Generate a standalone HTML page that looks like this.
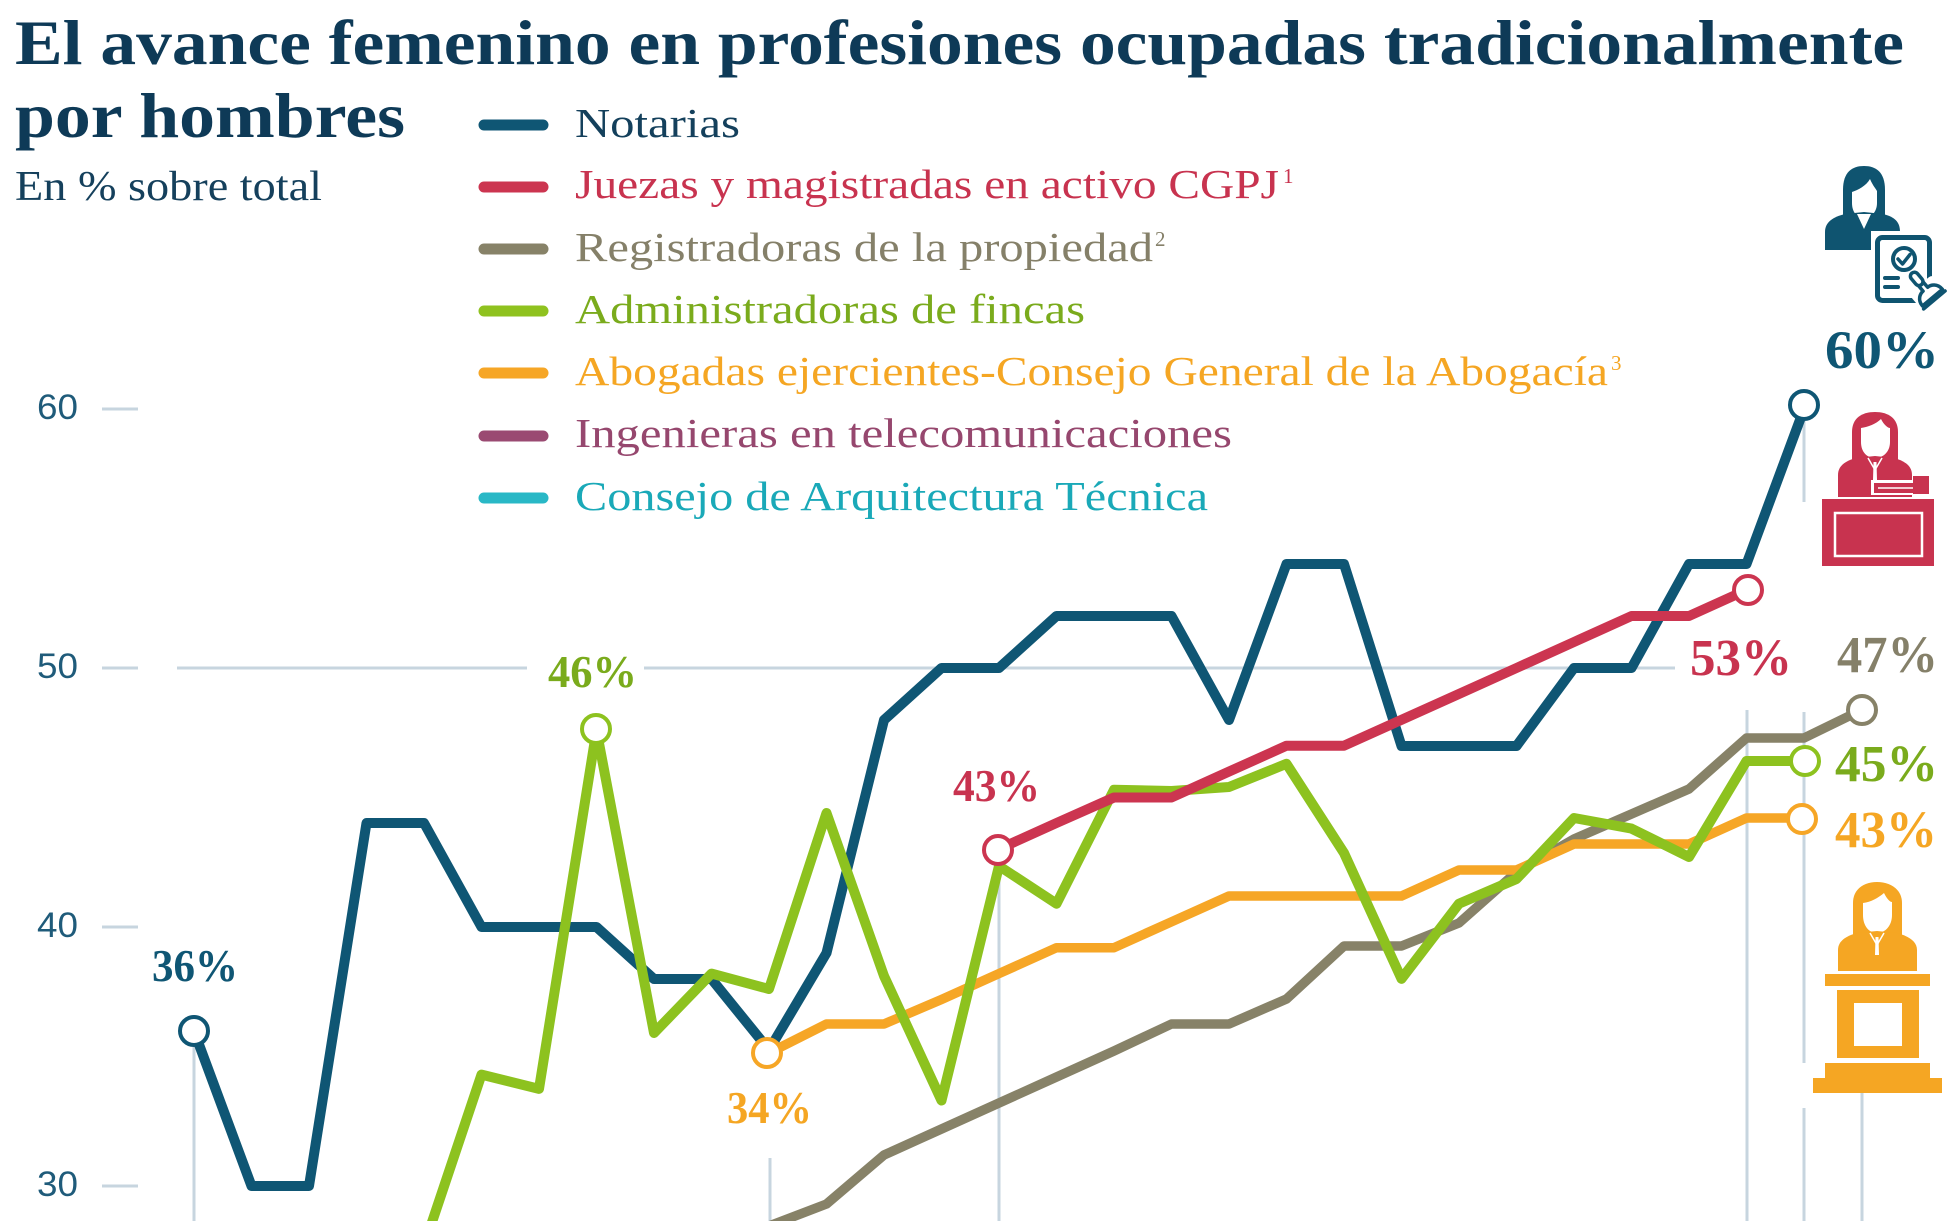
<!DOCTYPE html>
<html>
<head>
<meta charset="utf-8">
<style>
html,body{margin:0;padding:0;background:#ffffff;}
svg{display:block;}
</style>
</head>
<body>
<svg width="1960" height="1221" viewBox="0 0 1960 1221" xmlns="http://www.w3.org/2000/svg">
<rect x="0" y="0" width="1960" height="1221" fill="#ffffff"/>

<!-- Title -->
<g font-family="'Liberation Serif', serif" font-weight="bold" fill="#0e3a57">
  <text x="15" y="64" font-size="64" textLength="1889" lengthAdjust="spacingAndGlyphs">El avance femenino en profesiones ocupadas tradicionalmente</text>
  <text x="15" y="137" font-size="64" textLength="390" lengthAdjust="spacingAndGlyphs">por hombres</text>
</g>
<text x="15" y="200" font-family="'Liberation Serif', serif" font-size="42" fill="#15405c" textLength="307" lengthAdjust="spacingAndGlyphs">En % sobre total</text>

<!-- Legend -->
<g stroke-width="11" stroke-linecap="round">
  <line x1="484" y1="125" x2="543" y2="125" stroke="#0f5674"/>
  <line x1="484" y1="187" x2="543" y2="187" stroke="#cc3550"/>
  <line x1="484" y1="249" x2="543" y2="249" stroke="#878268"/>
  <line x1="484" y1="311" x2="543" y2="311" stroke="#8fc21f"/>
  <line x1="484" y1="373" x2="543" y2="373" stroke="#f6a626"/>
  <line x1="484" y1="436" x2="543" y2="436" stroke="#9a4a72"/>
  <line x1="484" y1="498" x2="543" y2="498" stroke="#29b8c6"/>
</g>
<g font-family="'Liberation Serif', serif" font-size="41">
  <text x="575" y="137" fill="#14405c" textLength="165" lengthAdjust="spacingAndGlyphs">Notarias</text>
  <text x="575" y="198" fill="#c8334f" textLength="704" lengthAdjust="spacingAndGlyphs">Juezas y magistradas en activo CGPJ</text>
  <text x="1283" y="183" fill="#c8334f" font-size="21">1</text>
  <text x="575" y="261" fill="#858069" textLength="578" lengthAdjust="spacingAndGlyphs">Registradoras de la propiedad</text>
  <text x="1155" y="246" fill="#858069" font-size="21">2</text>
  <text x="575" y="323" fill="#7aab1c" textLength="510" lengthAdjust="spacingAndGlyphs">Administradoras de fincas</text>
  <text x="575" y="385" fill="#f5a623" textLength="1033" lengthAdjust="spacingAndGlyphs">Abogadas ejercientes-Consejo General de la Abogacía</text>
  <text x="1611" y="370" fill="#f5a623" font-size="21">3</text>
  <text x="575" y="447" fill="#96476e" textLength="657" lengthAdjust="spacingAndGlyphs">Ingenieras en telecomunicaciones</text>
  <text x="575" y="510" fill="#1aa9b8" textLength="633" lengthAdjust="spacingAndGlyphs">Consejo de Arquitectura Técnica</text>
</g>

<!-- Axis ticks and labels -->
<g stroke="#c7d5df" stroke-width="3">
  <line x1="102" y1="409" x2="138" y2="409"/>
  <line x1="102" y1="668" x2="138" y2="668"/>
  <line x1="102" y1="927" x2="138" y2="927"/>
  <line x1="102" y1="1186" x2="138" y2="1186"/>
  <line x1="177" y1="668" x2="527" y2="668"/>
  <line x1="644" y1="668" x2="1675" y2="668"/>
  <!-- drop lines -->
  <line x1="194" y1="1047" x2="194" y2="1221"/>
  <line x1="770" y1="1158" x2="770" y2="1221"/>
  <line x1="999" y1="866" x2="999" y2="1221"/>
  <line x1="1747" y1="710" x2="1747" y2="1221"/>
  <line x1="1804" y1="420" x2="1804" y2="502"/>
  <line x1="1804" y1="712" x2="1804" y2="1063"/>
  <line x1="1804" y1="1108" x2="1804" y2="1221"/>
  <line x1="1862" y1="1093" x2="1862" y2="1221"/>
</g>
<g font-family="'Liberation Sans', sans-serif" font-size="35" fill="#1f5b7a">
  <text x="37" y="419" textLength="41" lengthAdjust="spacingAndGlyphs">60</text>
  <text x="37" y="678" textLength="41" lengthAdjust="spacingAndGlyphs">50</text>
  <text x="37" y="937" textLength="41" lengthAdjust="spacingAndGlyphs">40</text>
  <text x="37" y="1196" textLength="41" lengthAdjust="spacingAndGlyphs">30</text>
</g>

<!-- Series -->
<g fill="none" stroke-linejoin="round" stroke-width="10">
  <!-- Registradoras -->
  <polyline stroke="#878268" stroke-width="9.5" points="769,1226 826.5,1204 884,1155 941.5,1129 999,1103 1056.5,1077 1114,1051 1171.5,1024 1229,1024 1286.5,999 1344,946 1401.5,946 1459,923 1516.5,872 1574,839 1631.5,814 1689,789 1746.5,738 1804,738 1861.5,710"/>
  <!-- Abogadas -->
  <polyline stroke="#f6a626" stroke-width="9.5" points="769,1053 826.5,1024 884,1024 941.5,999.5 999,973.6 1056.5,947.7 1114,947.7 1171.5,921.8 1229,896 1286.5,896 1344,896 1401.5,896 1459,870 1516.5,870 1574,844 1631.5,844 1689,844 1746.5,818 1804,818"/>
  <!-- Notarias -->
  <polyline stroke="#0f5674" points="194,1031 251.5,1186 309,1186 366.5,823 424,823 481.5,927 539,927 596.5,927 654,979 711.5,979 769,1050 826.5,953 884,720 941.5,668 999,668 1056.5,616 1114,616 1171.5,616 1229,720 1286.5,564 1344,564 1401.5,746 1459,746 1516.5,746 1574,668 1631.5,668 1689,564 1746.5,564 1804,409"/>
  <!-- Administradoras -->
  <polyline stroke="#8dc21f" points="424,1246 481.5,1074.6 539,1088.9 596.5,730 654,1033 711.5,973.6 769,989 826.5,813 884,976 941.5,1100.5 999,866 1056.5,903.7 1114,789.7 1171.5,791 1229,787 1286.5,763.8 1344,853 1401.5,978.8 1459,903.7 1516.5,879 1574,818 1631.5,828.6 1689,857 1746.5,761 1804,761"/>
  <!-- Juezas -->
  <polyline stroke="#cc3550" points="999,849 1056.5,823 1114,797.5 1171.5,797.5 1229,771.6 1286.5,745.7 1344,745.7 1401.5,719.8 1459,693.9 1516.5,668 1574,642 1631.5,616 1689,616 1746.5,590"/>
</g>

<!-- Circles -->
<g fill="#ffffff" stroke-width="4">
  <circle cx="194" cy="1031" r="14" stroke="#0f5674"/>
  <circle cx="1804" cy="405" r="14" stroke="#0f5674"/>
  <circle cx="596" cy="729" r="14" stroke="#8dc21f"/>
  <circle cx="1805" cy="761" r="14" stroke="#8dc21f"/>
  <circle cx="767" cy="1053" r="14" stroke="#f6a626"/>
  <circle cx="1802" cy="819" r="14" stroke="#f6a626"/>
  <circle cx="998" cy="850" r="14" stroke="#cc3550"/>
  <circle cx="1748" cy="590" r="14" stroke="#cc3550"/>
  <circle cx="1862" cy="710" r="14" stroke="#878268"/>
</g>

<!-- Value labels -->
<g font-family="'Liberation Serif', serif" font-weight="bold" font-size="46">
  <text x="152" y="981" fill="#0f5674" textLength="86" lengthAdjust="spacingAndGlyphs">36%</text>
  <text x="548" y="687" fill="#7aab1c" textLength="89" lengthAdjust="spacingAndGlyphs">46%</text>
  <text x="727" y="1123" fill="#f5a623" textLength="85" lengthAdjust="spacingAndGlyphs">34%</text>
  <text x="953" y="801" fill="#c8334f" textLength="87" lengthAdjust="spacingAndGlyphs">43%</text>
  <text x="1825" y="368" fill="#0f5674" font-size="54" textLength="114" lengthAdjust="spacingAndGlyphs">60%</text>
  <text x="1690" y="675" fill="#c8334f" font-size="52" textLength="102" lengthAdjust="spacingAndGlyphs">53%</text>
  <text x="1837" y="672" fill="#858069" font-size="52" textLength="101" lengthAdjust="spacingAndGlyphs">47%</text>
  <text x="1835" y="781" fill="#7aab1c" font-size="52" textLength="103" lengthAdjust="spacingAndGlyphs">45%</text>
  <text x="1835" y="847" fill="#f5a623" font-size="52" textLength="102" lengthAdjust="spacingAndGlyphs">43%</text>
</g>

<!-- Notary icon -->
<g>
  <path d="M1843,222 L1843,190 C1843,172 1852,166 1864,166 C1876,166 1885,172 1885,190 L1885,222 Z" fill="#0f5470"/>
  <path d="M1852,192 C1858,190 1866,186 1870,179 C1873,186 1876,189 1877,191 L1877,203 C1877,212 1871,218 1864,218 C1857,218 1852,212 1852,203 Z" fill="#ffffff"/>
  <path d="M1825,250 L1825,232 C1825,222 1833,217 1845,214 L1864,212 L1883,214 C1895,217 1900,222 1900,232 L1900,250 Z" fill="#0f5470"/>
  <path d="M1857,214 L1864,229 L1871,214 Z" fill="#ffffff"/>
  <rect x="1871" y="231" width="64" height="76" fill="#ffffff"/>
  <rect x="1877.5" y="237.5" width="52" height="63" rx="5" fill="#ffffff" stroke="#0f5470" stroke-width="5"/>
  <circle cx="1904" cy="259" r="11" fill="none" stroke="#0f5470" stroke-width="4"/>
  <path d="M1898,259 L1902.5,264 L1910,254.5" fill="none" stroke="#0f5470" stroke-width="3.5" stroke-linecap="round" stroke-linejoin="round"/>
  <path d="M1885,278 L1898,278 M1885,287 L1898,287" stroke="#0f5470" stroke-width="4" stroke-linecap="round"/>
  <g transform="rotate(-40 1926 290)">
    <rect x="1910" y="282" width="32" height="22" rx="6" fill="#ffffff"/>
    <path d="M1913,300 C1913,292 1919,289 1923,289 L1923,282 L1929,282 L1929,289 C1933,289 1939,292 1939,300 Z" fill="#ffffff" stroke="#0f5470" stroke-width="3.5" stroke-linejoin="round"/>
    <rect x="1922" y="268" width="8" height="15" rx="4" fill="#ffffff" stroke="#0f5470" stroke-width="3.5"/>
    <line x1="1912" y1="303" x2="1940" y2="303" stroke="#0f5470" stroke-width="3.5" stroke-linecap="round"/>
  </g>
</g>

<!-- Judge icon -->
<g>
  <path d="M1852,460 L1852,432 C1852,418 1862,412 1875,412 C1888,412 1898,418 1898,432 L1898,460 Z" fill="#c8334f"/>
  <path d="M1861,428 C1868,427 1876,424 1881,419 C1884,425 1888,428 1890,428 L1890,442 C1890,452 1883,458 1875,458 C1867,458 1861,452 1861,442 Z" fill="#ffffff"/>
  <path d="M1838,497 L1838,475 C1838,466 1845,461 1856,458 L1875,456 L1894,458 C1905,461 1912,466 1912,475 L1912,497 Z" fill="#c8334f"/>
  <path d="M1868,458 L1875,470 L1882,458" fill="none" stroke="#ffffff" stroke-width="1.5"/>
  <path d="M1873.5,462 L1876.5,462 L1877,480 L1873,480 Z" fill="#ffffff"/>
  <rect x="1871" y="480" width="46" height="15" fill="#ffffff"/>
  <rect x="1874" y="483" width="42" height="10" fill="#c8334f"/>
  <line x1="1878" y1="488" x2="1914" y2="488" stroke="#ffffff" stroke-width="1.5"/>
  <rect x="1913" y="476" width="16" height="18" fill="#c8334f"/>
  <rect x="1822" y="499" width="112" height="67" fill="#c8334f"/>
  <rect x="1835" y="513" width="87" height="43" fill="none" stroke="#ffffff" stroke-width="2.5"/>
</g>

<!-- Lawyer podium icon -->
<g fill="#f5a623">
  <path d="M1853,935 L1853,903 C1853,889 1864,882 1877,882 C1890,882 1902,889 1902,903 L1902,935 Z"/>
  <path d="M1863,903 C1871,902 1878,898 1884,893 C1887,899 1890,902 1892,902 L1892,915 C1892,926 1885,933 1877,933 C1869,933 1863,926 1863,915 Z" fill="#ffffff"/>
  <path d="M1838,971 L1838,950 C1838,941 1846,936 1857,933 L1877,931 L1897,933 C1908,936 1917,941 1917,950 L1917,971 Z"/>
  <path d="M1870,933 L1877,945 L1884,933" fill="none" stroke="#ffffff" stroke-width="1.5"/>
  <path d="M1875.5,937 L1878.5,937 L1879,955 L1875,955 Z" fill="#ffffff"/>
  <rect x="1825" y="974" width="105" height="12"/>
  <rect x="1837" y="990" width="82" height="68"/>
  <rect x="1854" y="1003" width="48" height="43" fill="#ffffff"/>
  <rect x="1825" y="1063" width="105" height="15"/>
  <rect x="1813" y="1078" width="129" height="15"/>
</g>
</svg>
</body>
</html>
